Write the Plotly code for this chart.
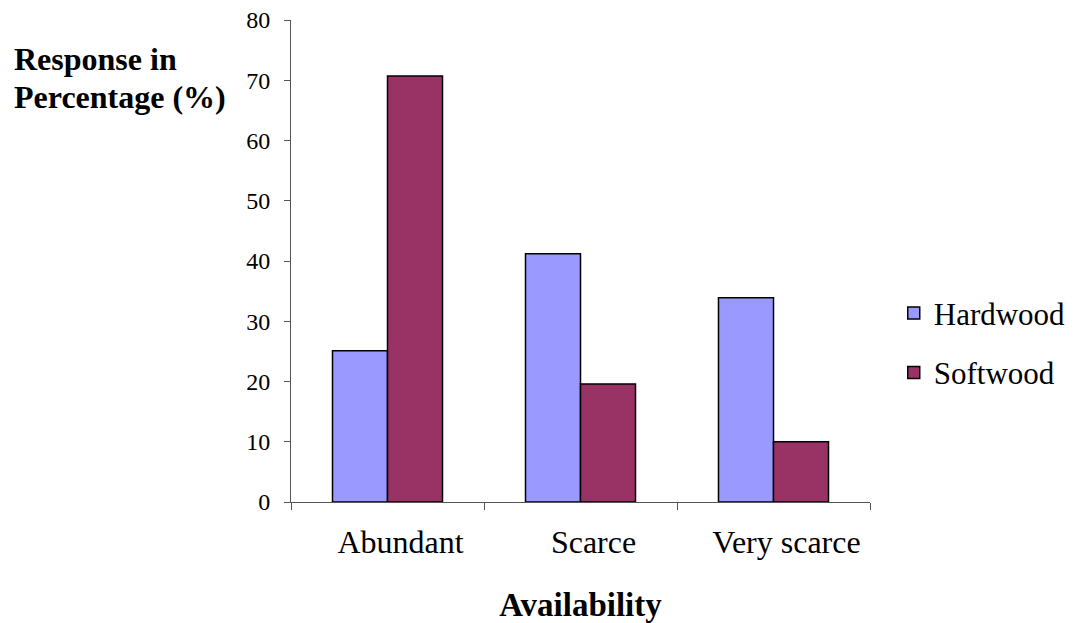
import plotly.graph_objects as go

categories = ["Abundant", "Scarce", "Very scarce"]
hardwood = [25.1, 41.2, 33.9]
softwood = [70.7, 19.6, 10.0]
y_ticks = [0, 10, 20, 30, 40, 50, 60, 70, 80]

serif = "Liberation Serif"

fig = go.Figure()
fig.add_trace(go.Bar(
    name="Hardwood", x=categories, y=hardwood, legendgroup="h",
    marker=dict(color="#9999FF", line=dict(color="#000000", width=1.5)),
))
fig.add_trace(go.Bar(
    name="Softwood", x=categories, y=softwood, legendgroup="s",
    marker=dict(color="#993366", line=dict(color="#000000", width=1.5)),
))

fig.update_layout(
    width=1077, height=623, autosize=False,
    margin=dict(l=291, r=207, t=20, b=121, autoexpand=False),
    paper_bgcolor="white", plot_bgcolor="white",
    barmode="group", bargap=0.43, bargroupgap=0,
    font=dict(family=serif, color="black"),
    showlegend=True,
    legend=dict(
        x=1.041, xanchor="left", y=0.33, yanchor="middle",
        font=dict(family=serif, size=31, color="black"),
        tracegroupgap=16, traceorder="grouped",
        bgcolor="rgba(0,0,0,0)",
    ),
    xaxis=dict(
        automargin=False,
        showline=True, linecolor="#555555", linewidth=1,
        ticks="outside", ticklen=7, tickcolor="#555555",
        tickson="boundaries",
        tickfont=dict(family=serif, size=32, color="black"),
        ticklabelstandoff=12, ticklabelshift=13,
        showgrid=False, zeroline=False,
        title=dict(text="<b>Availability</b>",
                   font=dict(family=serif, size=33, color="black"),
                   standoff=34),
    ),
    yaxis=dict(
        automargin=False,
        range=[0, 80], tickvals=y_ticks,
        showline=True, linecolor="#555555", linewidth=1,
        ticks="outside", ticklen=6, tickcolor="#555555",
        tickfont=dict(family=serif, size=24, color="black"),
        ticklabelstandoff=9,
        showgrid=False, zeroline=False,
    ),
)

# Y-axis title, set horizontally in the top-left corner, one line per annotation
title_lines = ["<b>Response in</b>", "<b>Percentage (%)</b>"]
line_centres_px = [59, 97]
for text, yc in zip(title_lines, line_centres_px):
    fig.add_annotation(
        text=text, xref="paper", yref="paper",
        x=(12 - 291) / 579, y=1 - (yc - 20) / 482,
        xanchor="left", yanchor="middle", align="left", showarrow=False,
        font=dict(family=serif, size=32, color="black"),
    )

fig.write_html("out.html")
